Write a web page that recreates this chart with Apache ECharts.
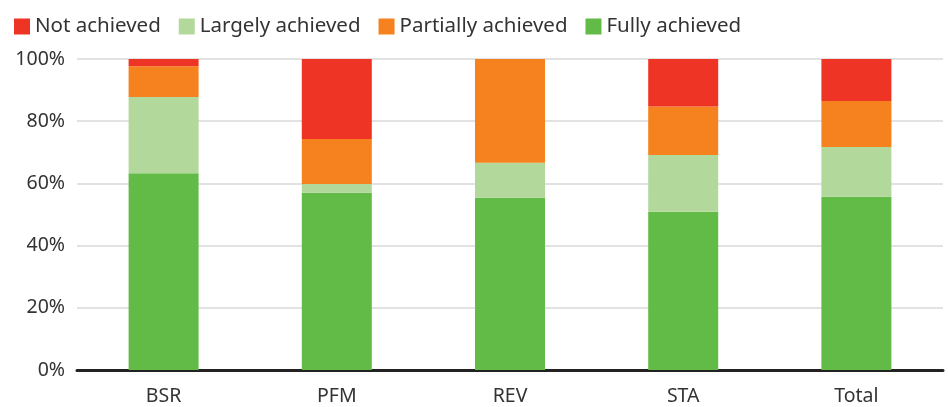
<!DOCTYPE html>
<html>
<head>
<meta charset="utf-8">
<script src="https://cdn.jsdelivr.net/npm/echarts@6/dist/echarts.min.js"></script>
<style>
    html, body { margin: 0; padding: 0; background: #fff; }
    #chart { width: 948px; height: 407px; }
</style>
</head>
<body>
<div id="chart"></div>
<script>
//== data
var categories = ['BSR', 'PFM', 'REV', 'STA', 'Total'];
var fullyAchieved = [63.3, 57.0, 55.4, 50.9, 55.7];
var largelyAchieved = [24.5, 2.8, 11.2, 18.2, 16.0];
var partiallyAchieved = [9.9, 14.5, 33.4, 15.6, 14.8];
var notAchieved = [2.3, 25.7, 0, 15.3, 13.5];
var legendOrder = ['Not achieved', 'Largely achieved', 'Partially achieved', 'Fully achieved'];

var FONT = '"Noto Sans"';
var TEXT = '#333';

/**
 * 堆叠柱子
 */
var makeBar = function (name, data, color) {
    return {
        name: name,
        type: 'bar',
        stack: 'all',
        data: data,
        barWidth: 70,
        itemStyle: { color: color },
        emphasis: { disabled: true }
    };
};

var myChart = echarts.init(document.getElementById('chart'));
var option = {
    animation: false,
    textStyle: { fontFamily: FONT },
    legend: {
        data: legendOrder,
        left: 9,
        top: 11,
        itemWidth: 16,
        itemHeight: 16,
        itemGap: 18,
        icon: 'rect',
        textStyle: { fontSize: 20.5, color: TEXT, fontFamily: FONT }
    },
    grid: { left: 77, right: 5, top: 59, bottom: 37, containLabel: false },
    xAxis: {
        type: 'category',
        data: categories,
        axisLine: { lineStyle: { color: '#222', width: 3 } },
        axisTick: { show: false },
        axisLabel: { fontSize: 19.5, color: TEXT, margin: 16, fontFamily: FONT }
    },
    yAxis: {
        type: 'value',
        min: 0,
        max: 100,
        interval: 20,
        axisLine: { show: false },
        axisTick: { show: false },
        splitLine: { lineStyle: { color: '#e2e2e2', width: 2 } },
        axisLabel: {
            fontSize: 19.5, color: TEXT, margin: 12, fontFamily: FONT,
            formatter: '{value}%'
        }
    },
    series: [
        makeBar('Fully achieved', fullyAchieved, '#62BB46'),
        makeBar('Largely achieved', largelyAchieved, '#B2D89B'),
        makeBar('Partially achieved', partiallyAchieved, '#F5821F'),
        makeBar('Not achieved', notAchieved, '#EE3424')
    ]
};
myChart.setOption(option, true);
</script>
</body>
</html>
